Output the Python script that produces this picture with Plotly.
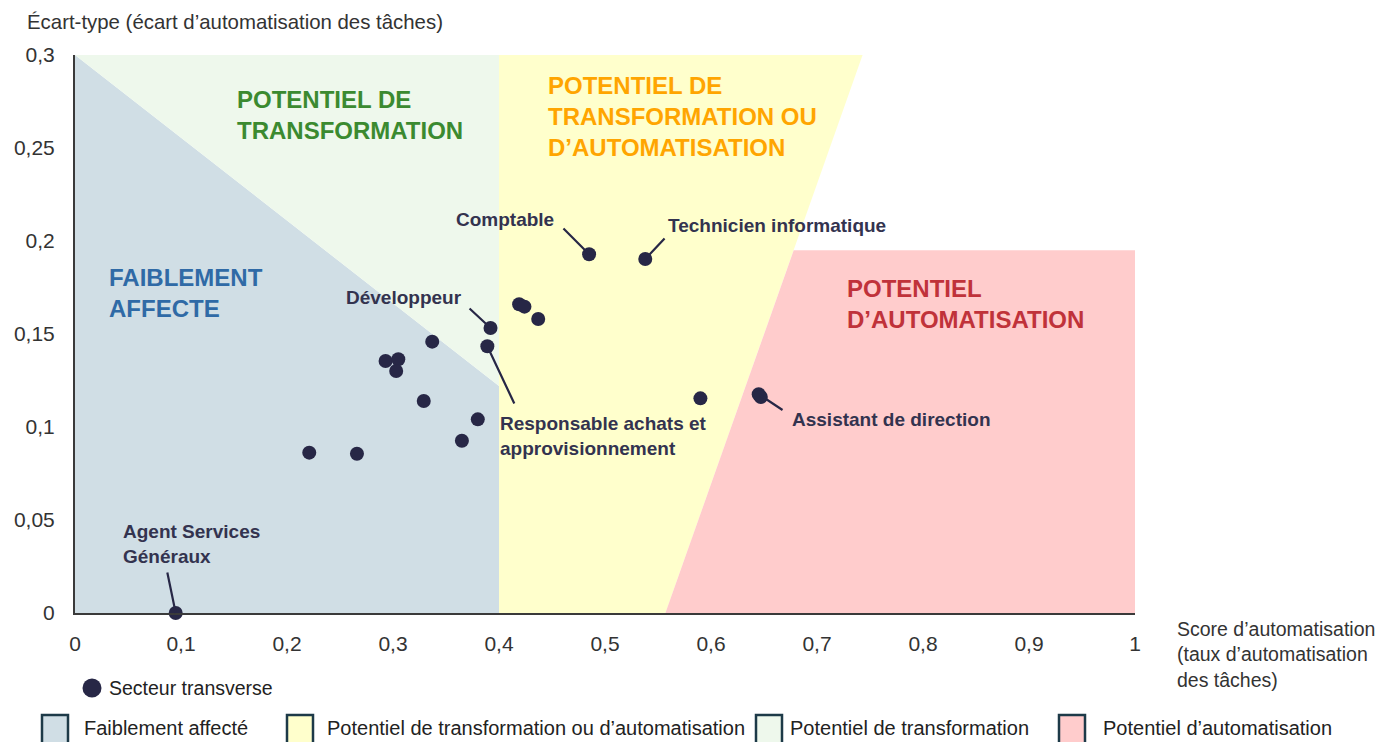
import plotly.graph_objects as go

# ---------------- Data ----------------
x_score = [0.095, 0.221, 0.266, 0.293, 0.305, 0.303, 0.329, 0.337, 0.365, 0.380,
           0.389, 0.392, 0.419, 0.424, 0.437, 0.485, 0.538, 0.590, 0.645, 0.647]
y_std = [0.0, 0.0862, 0.0856, 0.1355, 0.1364, 0.1301, 0.1140, 0.1459, 0.0926, 0.1041,
         0.1434, 0.1532, 0.1660, 0.1647, 0.1581, 0.1929, 0.1903, 0.1154, 0.1176, 0.1161]
series_name = "Secteur transverse"

# labelled jobs: index of point, label text
label_idx = [0, 11, 10, 15, 16, 18]
label_text = ["Agent Services<br>Généraux", "Développeur",
              "Responsable achats et<br>approvisionnement", "Comptable",
              "Technicien informatique", "Assistant de direction"]
# label anchor positions (data coords), anchor side
label_pos_x = [0.0434, 0.367, 0.399, 0.4538, 0.5575, 0.6745]
label_pos_y = [0.0371, 0.1694, 0.0952, 0.2118, 0.2081, 0.1043]
label_xanchor = ["left", "right", "left", "right", "left", "left"]
# connector tail positions (data coords)
tail_x = [0.0868, 0.3708, 0.4151, 0.4594, 0.5575, 0.6689]
tail_y = [0.0226, 0.1645, 0.1118, 0.2075, 0.2022, 0.1086]

# zones
region_names = ["Faiblement affecté", "Potentiel de transformation ou d’automatisation",
                "Potentiel de transformation", "Potentiel d’automatisation"]
region_colors = ["#D0DEE5", "#FFFFCC", "#EEF8EC", "#FFCCCC"]
faible_x = [0, 0, 0.4, 0.4]
faible_y = [0, 0.3, 0.122, 0]
mixte_x = [0.4, 0.4, 0.743, 0.557]
mixte_y = [0, 0.3, 0.3, 0]
transfo_x = [0, 0.4, 0.4]
transfo_y = [0.3, 0.3, 0.122]
auto_x = [0.557, 0.678, 1, 1]
auto_y = [0, 0.195, 0.195, 0]

zone_titles = ["FAIBLEMENT<br>AFFECTE", "POTENTIEL DE<br>TRANSFORMATION OU<br>D’AUTOMATISATION",
               "POTENTIEL DE<br>TRANSFORMATION", "POTENTIEL<br>D’AUTOMATISATION"]
zone_title_colors = ["#2F6AA6", "#FFA500", "#3B8A30", "#C0323A"]
zone_title_x = [0.0302, 0.4443, 0.151, 0.7264]
zone_title_y = [0.1723, 0.2672, 0.268, 0.1659]

x_ticks = [0, 0.1, 0.2, 0.3, 0.4, 0.5, 0.6, 0.7, 0.8, 0.9, 1]
x_ticktext = ["0", "0,1", "0,2", "0,3", "0,4", "0,5", "0,6", "0,7", "0,8", "0,9", "1"]
y_ticks = [0, 0.05, 0.1, 0.15, 0.2, 0.25, 0.3]
y_ticktext = ["0", "0,05", "0,1", "0,15", "0,2", "0,25", "0,3"]

y_title = "Écart-type (écart d’automatisation des tâches)"
x_title = "Score d’automatisation<br>(taux d’automatisation<br>des tâches)"

# ---------------- Figure ----------------
OFF = 8  # page body margin
PW, PH = 1060, 558
ML, MT = 75 - OFF, 55 - OFF
W, H = 1383 - OFF, 742 - OFF
MR, MB = W - ML - PW, H - MT - PH


def px(xs):  # screen x -> paper
    return (xs - 75) / PW


def py(ys):  # screen y -> paper
    return (613 - ys) / PH


FONT = "Liberation Sans, Arial, sans-serif"
DOT = "#272746"
LBL = "#33334F"

fig = go.Figure()

polys = [(faible_x, faible_y, region_colors[0]), (transfo_x, transfo_y, region_colors[2]),
         (mixte_x, mixte_y, region_colors[1]), (auto_x, auto_y, region_colors[3])]
for xs, ys, col in polys:
    fig.add_trace(go.Scatter(x=xs, y=ys, fill="toself", fillcolor=col, mode="lines",
                             line=dict(width=0, color=col), hoverinfo="skip",
                             showlegend=False))

fig.add_trace(go.Scatter(x=x_score, y=y_std, mode="markers", name=series_name,
                         marker=dict(size=14, color=DOT), cliponaxis=False,
                         showlegend=False))

annotations = []
for i, k in enumerate(label_idx):
    annotations.append(dict(x=x_score[k], y=y_std[k], xref="x", yref="y",
                            ax=tail_x[i], ay=tail_y[i], axref="x", ayref="y",
                            text="", showarrow=True, arrowhead=0, arrowwidth=2.2,
                            arrowcolor=DOT, standoff=0))
    annotations.append(dict(x=label_pos_x[i], y=label_pos_y[i], xref="x", yref="y",
                            text=label_text[i], showarrow=False,
                            xanchor=label_xanchor[i], yanchor="middle", align="left",
                            font=dict(family=FONT, size=19, color=LBL, weight="bold")))

for t, c, xx, yy in zip(zone_titles, zone_title_colors, zone_title_x, zone_title_y):
    annotations.append(dict(x=xx, y=yy, xref="x", yref="y", text=t, showarrow=False,
                            xanchor="left", yanchor="middle", align="left",
                            font=dict(family=FONT, size=24, color=c, weight="bold")))

annotations.append(dict(x=px(25), y=py(22), xref="paper", yref="paper", text=y_title,
                        showarrow=False, xanchor="left", yanchor="middle",
                        font=dict(family=FONT, size=20.4, color="#333333")))
annotations.append(dict(x=px(1175), y=py(654), xref="paper", yref="paper", text=x_title,
                        showarrow=False, xanchor="left", yanchor="middle", align="left",
                        font=dict(family=FONT, size=19.5, color="#333333")))

shapes = []
# series legend (dot + label)
shapes.append(dict(type="circle", xref="paper", yref="paper",
                   x0=px(82.5), x1=px(101.5), y0=py(678.5), y1=py(697.5),
                   fillcolor=DOT, line=dict(color=DOT, width=0)))
annotations.append(dict(x=px(107), y=py(688), xref="paper", yref="paper", text=series_name,
                        showarrow=False, xanchor="left", yanchor="middle",
                        font=dict(family=FONT, size=19.5, color="#222222")))

# bottom zone legend
box_left = [42, 287, 756, 1059]
text_left = [82, 325, 788, 1101]
for name, col, bl, tl in zip(region_names, region_colors, box_left, text_left):
    shapes.append(dict(type="rect", xref="paper", yref="paper",
                       x0=px(bl), x1=px(bl + 26), y0=py(715), y1=py(750),
                       fillcolor=col, line=dict(color="#1D3A48", width=2.5)))
    annotations.append(dict(x=px(tl), y=py(728), xref="paper", yref="paper", text=name,
                            showarrow=False, xanchor="left", yanchor="middle",
                            font=dict(family=FONT, size=20, color="#222222")))

fig.update_layout(
    width=W, height=H,
    margin=dict(l=ML, r=MR, t=MT, b=MB, autoexpand=False),
    paper_bgcolor="white", plot_bgcolor="white",
    showlegend=False,
    font=dict(family=FONT, size=20, color="#333333"),
    xaxis=dict(range=[0, 1], tickvals=x_ticks, ticktext=x_ticktext, showgrid=False,
               zeroline=False, showline=True, linecolor="#3A3A3A", linewidth=2,
               ticks="", ticklabelstandoff=11, tickfont=dict(size=21)),
    yaxis=dict(range=[0, 0.3], tickvals=y_ticks, ticktext=y_ticktext, showgrid=False,
               zeroline=False, showline=True, linecolor="#3A3A3A", linewidth=2,
               ticks="", ticklabelstandoff=14, tickfont=dict(size=21)),
    annotations=annotations,
    shapes=shapes,
)

fig.write_html("out.html")
